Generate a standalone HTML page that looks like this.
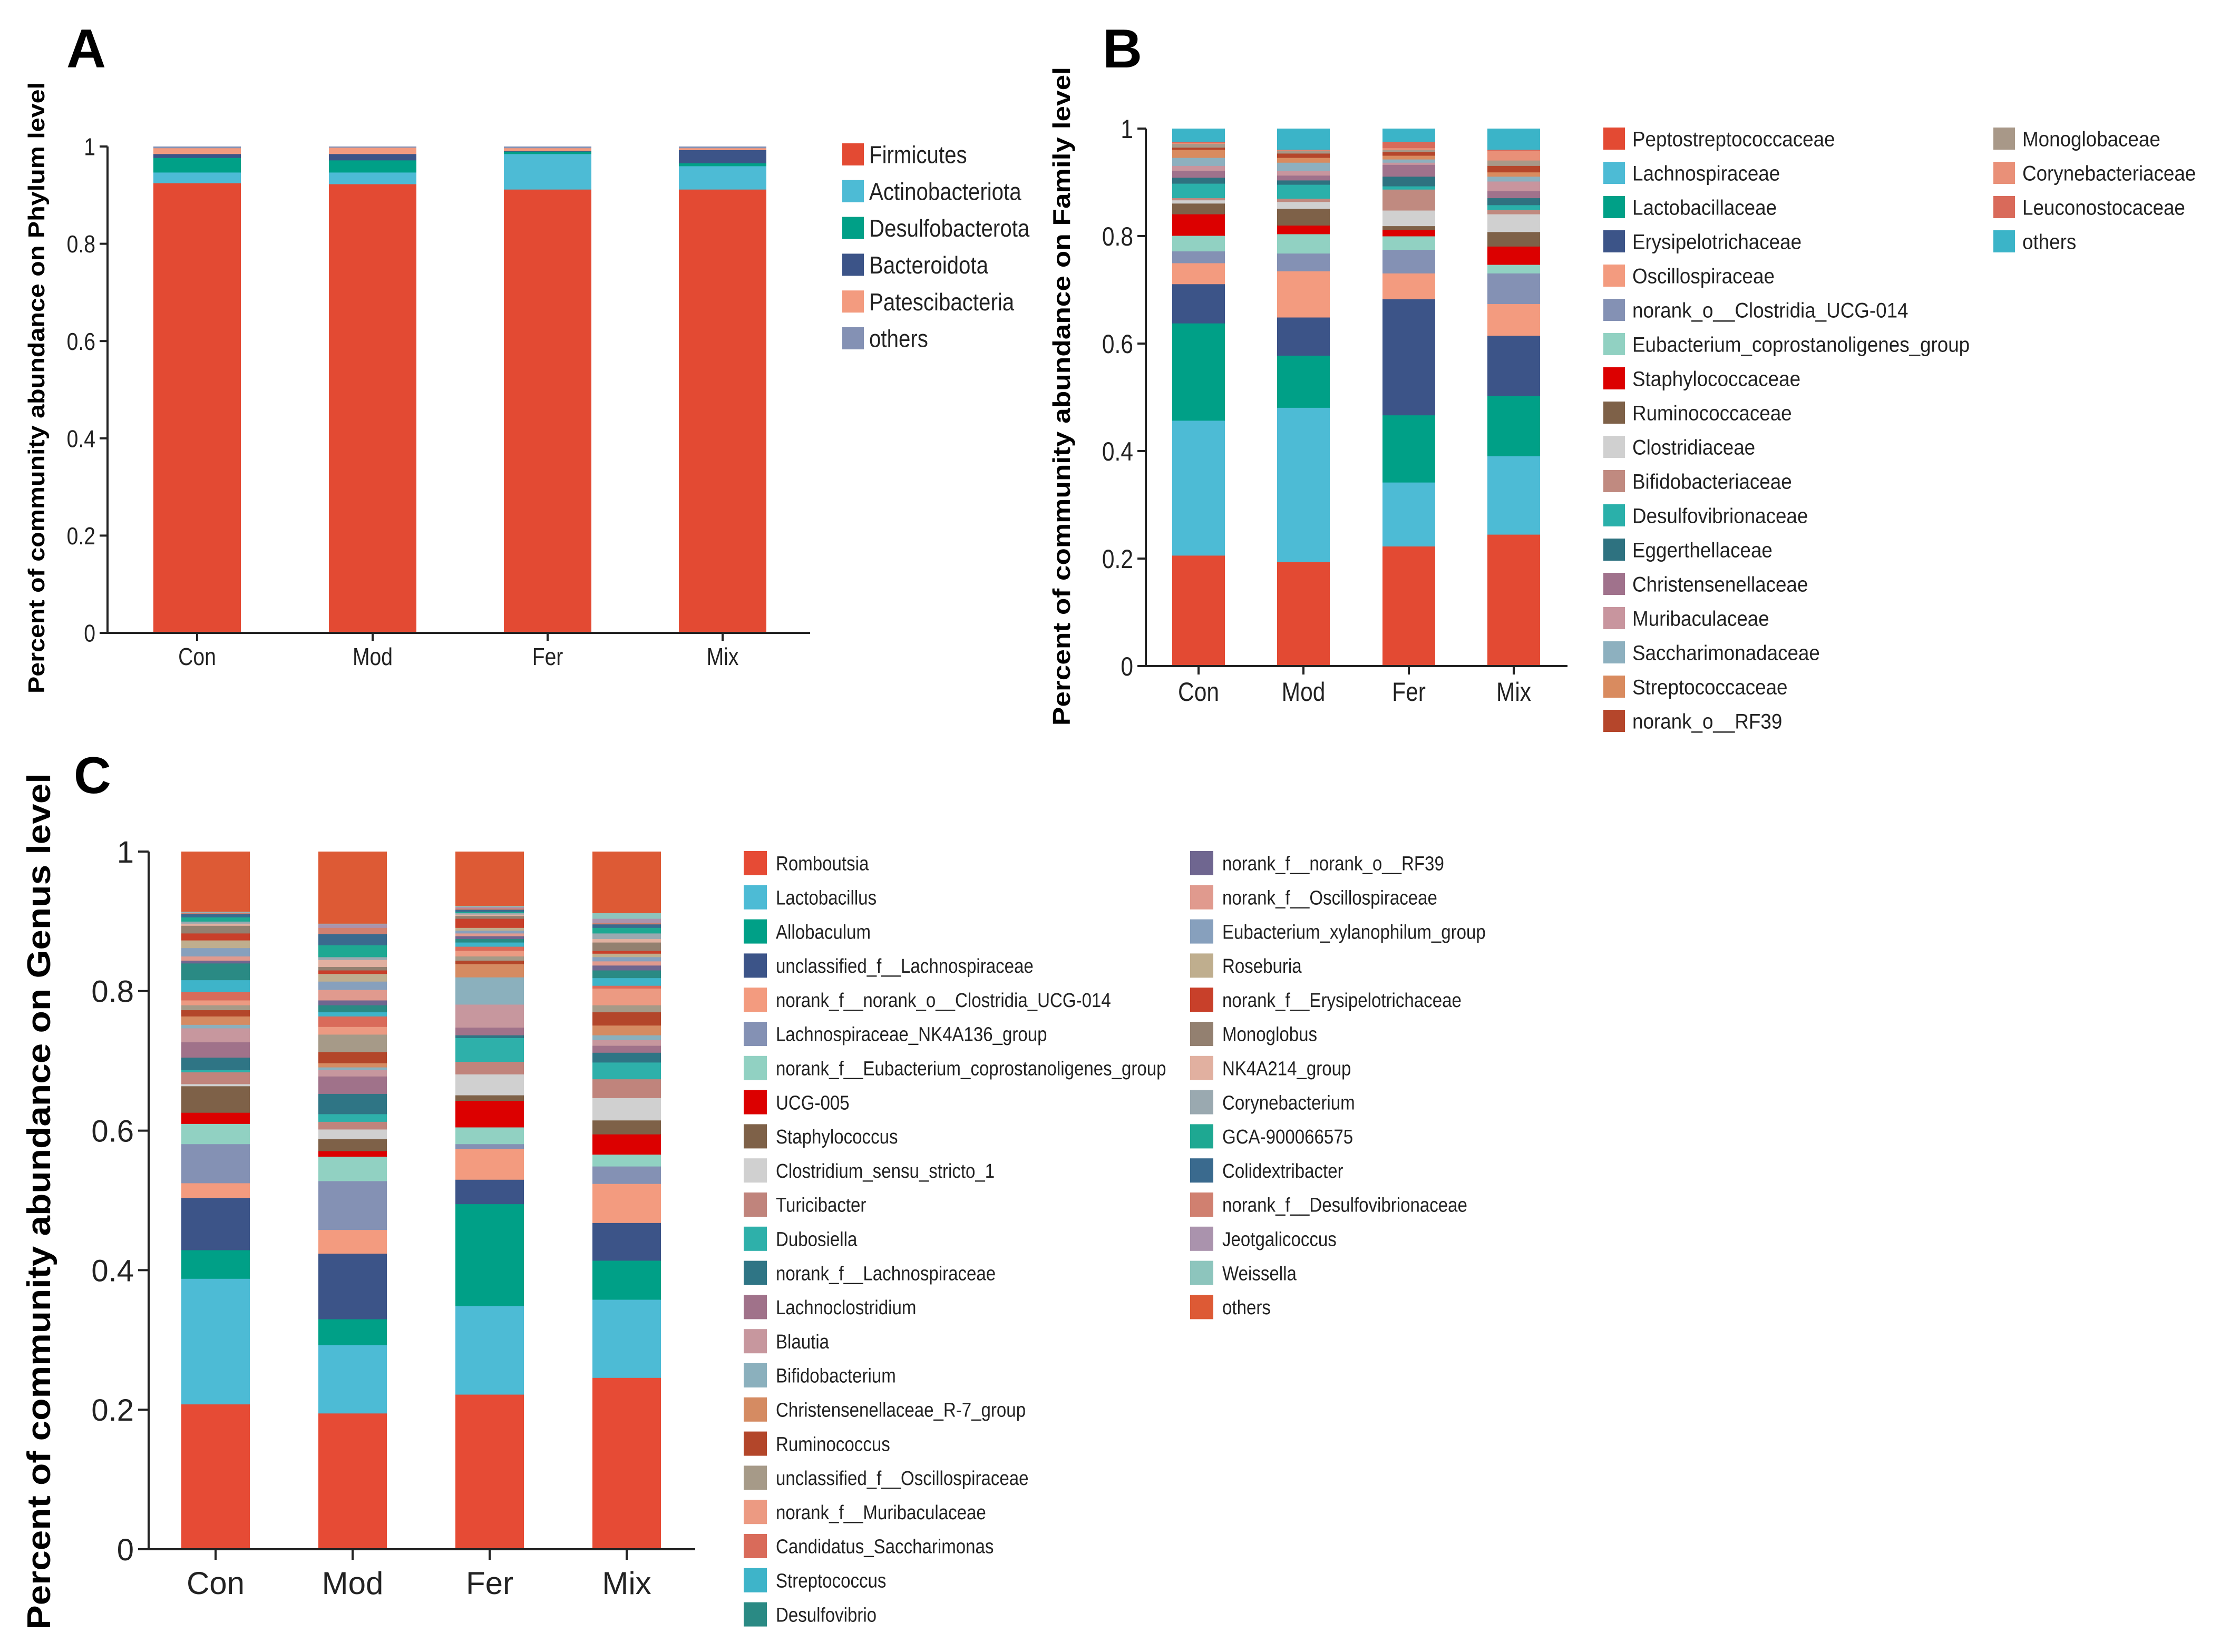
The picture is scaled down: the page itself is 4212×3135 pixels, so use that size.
<!DOCTYPE html>
<html><head><meta charset="utf-8"><style>
html,body{margin:0;padding:0;background:#fff;}
svg{display:block;font-family:"Liberation Sans",Arial,sans-serif;}
</style></head><body>
<svg id="fig" xmlns="http://www.w3.org/2000/svg" width="4212" height="3135" viewBox="0 0 4212 3135">
<rect width="4212" height="3135" fill="#fff"/>
</svg>
<script>
// ---------- shared data ----------
const groups = ["Con","Mod","Fer","Mix"];

// Panel A (phylum)
const phylumNames = ["Firmicutes","Actinobacteriota","Desulfobacterota","Bacteroidota","Patescibacteria","others"];
const phylumColors = ["#e34a33","#4dbbd5","#00a087","#3c5488","#f39b7f","#8491b4"];
const phylumCon = [0.925,0.022,0.030,0.008,0.012,0.003];
const phylumMod = [0.923,0.024,0.025,0.013,0.013,0.002];
const phylumFer = [0.912,0.073,0.005,0.001,0.006,0.003];
const phylumMix = [0.912,0.048,0.006,0.027,0.004,0.003];

// Panel B (family)
const familyNames = ["Peptostreptococcaceae","Lachnospiraceae","Lactobacillaceae","Erysipelotrichaceae","Oscillospiraceae","norank_o__Clostridia_UCG-014","Eubacterium_coprostanoligenes_group","Staphylococcaceae","Ruminococcaceae","Clostridiaceae","Bifidobacteriaceae","Desulfovibrionaceae","Eggerthellaceae","Christensenellaceae","Muribaculaceae","Saccharimonadaceae","Streptococcaceae","norank_o__RF39","Monoglobaceae","Corynebacteriaceae","Leuconostocaceae","others"];
const familyColors = ["#e34a33","#4dbbd5","#00a087","#3c5488","#f39b7f","#8491b4","#91d1c2","#dc0000","#7e6148","#d0d0d0","#c08a80","#2ab0aa","#2e7280","#a0728c","#c8959e","#8db0bf","#d98b5f","#b5462b","#a89888","#e99078","#d96a5a","#3bb4c8"];
const familyCon = [0.206,0.251,0.181,0.073,0.039,0.022,0.029,0.040,0.020,0.006,0.004,0.027,0.011,0.013,0.009,0.015,0.015,0.004,0.007,0.002,0.002,0.024];
const familyMod = [0.194,0.287,0.097,0.071,0.086,0.033,0.036,0.016,0.031,0.013,0.006,0.026,0.008,0.009,0.009,0.015,0.009,0.008,0.005,0.001,0.001,0.039];
const familyFer = [0.223,0.119,0.125,0.216,0.048,0.044,0.025,0.012,0.007,0.029,0.039,0.006,0.018,0.022,0.004,0.006,0.007,0.007,0.004,0.003,0.012,0.024];
const familyMix = [0.245,0.146,0.112,0.112,0.059,0.057,0.016,0.034,0.027,0.033,0.008,0.009,0.013,0.013,0.018,0.009,0.008,0.012,0.010,0.018,0.002,0.039];

// Panel C (genus)
const genusNames = ["Romboutsia","Lactobacillus","Allobaculum","unclassified_f__Lachnospiraceae","norank_f__norank_o__Clostridia_UCG-014","Lachnospiraceae_NK4A136_group","norank_f__Eubacterium_coprostanoligenes_group","UCG-005","Staphylococcus","Clostridium_sensu_stricto_1","Turicibacter","Dubosiella","norank_f__Lachnospiraceae","Lachnoclostridium","Blautia","Bifidobacterium","Christensenellaceae_R-7_group","Ruminococcus","unclassified_f__Oscillospiraceae","norank_f__Muribaculaceae","Candidatus_Saccharimonas","Streptococcus","Desulfovibrio","norank_f__norank_o__RF39","norank_f__Oscillospiraceae","Eubacterium_xylanophilum_group","Roseburia","norank_f__Erysipelotrichaceae","Monoglobus","NK4A214_group","Corynebacterium","GCA-900066575","Colidextribacter","norank_f__Desulfovibrionaceae","Jeotgalicoccus","Weissella","others"];
const genusColors = ["#e64b35","#4dbbd5","#00a087","#3c5488","#f39b7f","#8491b4","#91d1c2","#dc0000","#7e6148","#d0d0d0","#c0847c","#2eb0aa","#2f7585","#a0728a","#c7979e","#8bb0bd","#d58b62","#b3462a","#a69a88","#ec9a82","#d96b5a","#3eb4c9","#2a8a84","#6f6690","#e09a8e","#87a0bd","#bfae8e","#c8402a","#938070","#e1b0a0","#9aa9b0","#1ea892","#3a6a8e","#d08070","#aa93ad","#8dc5bd","#dd5a35"];
const genusCon = [0.208,0.180,0.041,0.075,0.021,0.056,0.029,0.016,0.038,0.003,0.017,0.003,0.018,0.022,0.020,0.005,0.012,0.009,0.007,0.007,0.012,0.017,0.024,0.004,0.006,0.012,0.011,0.010,0.011,0.003,0.003,0.006,0.005,0.001,0.001,0.001,0.086];
const genusMod = [0.195,0.098,0.037,0.094,0.034,0.070,0.035,0.008,0.017,0.014,0.011,0.011,0.029,0.025,0.009,0.004,0.006,0.016,0.025,0.011,0.015,0.006,0.010,0.007,0.015,0.012,0.011,0.005,0.005,0.010,0.004,0.017,0.016,0.009,0.005,0.001,0.103];
const genusFer = [0.222,0.127,0.146,0.035,0.044,0.007,0.024,0.038,0.008,0.030,0.018,0.034,0.004,0.011,0.033,0.039,0.019,0.005,0.006,0.008,0.006,0.006,0.005,0.004,0.004,0.004,0.004,0.013,0.004,0.002,0.002,0.002,0.003,0.002,0.002,0.001,0.078];
const genusMix = [0.246,0.112,0.056,0.054,0.056,0.025,0.017,0.029,0.020,0.032,0.027,0.024,0.014,0.010,0.008,0.007,0.014,0.019,0.010,0.024,0.004,0.011,0.011,0.007,0.006,0.006,0.005,0.004,0.012,0.005,0.008,0.008,0.005,0.002,0.006,0.008,0.088];

const yTicks = [0,0.2,0.4,0.6,0.8,1];
const yTickLabels = ["0","0.2","0.4","0.6","0.8","1"];

// ---------- drawing ----------
const NS = "http://www.w3.org/2000/svg";
const svg = document.getElementById("fig");
function mk(tag, attrs, parent){
  const e = document.createElementNS(NS, tag);
  for (const k in attrs) e.setAttribute(k, attrs[k]);
  (parent||svg).appendChild(e);
  return e;
}

function panel(p){
  const g = mk("g", {});
  
  
  const yS = v => p.y0 + (p.y1 - p.y0) * v;
  const L = mk("text", {x:p.letterX, y:p.letterY, "font-size":p.letterSize, "font-weight":"bold", fill:"#000"}, g);
  L.textContent = p.letter;
  
  
  const T = mk("text", {transform:`translate(${p.titleX},${p.titleCY}) rotate(-90)`, "text-anchor":"middle", "font-size":p.titleSize, "font-weight":"bold", fill:"#000", textLength:p.titleLen, lengthAdjust:"spacingAndGlyphs"}, g);
  T.textContent = p.title;
  
  
  p.series.forEach((vals, gi) => {
    const cx = p.xs[gi];
    let cum = 0;
    vals.forEach((v, si) => {
      const top = yS(cum + v), bot = yS(cum);
      const r = mk("rect", {x:cx - p.bw/2, y:top, width:p.bw, height:Math.max(0, bot - top + 0.5), fill:p.colors[si]}, g);
      
      
      cum += v;
    });
  });
  const ya = mk("line", {x1:p.axX, y1:yS(1), x2:p.axX, y2:yS(0), stroke:"#222", "stroke-width":p.sw}, g);
  
  
  const xa = mk("line", {x1:p.axX - p.tick, y1:yS(0), x2:p.xEnd, y2:yS(0), stroke:"#222", "stroke-width":p.sw}, g);
  
  
  yTicks.forEach((t, i) => {
    mk("line", {x1:p.axX - p.tick, y1:yS(t), x2:p.axX, y2:yS(t), stroke:"#222", "stroke-width":p.sw}, g);
    const tx = mk("text", {transform:`translate(${p.axX - p.tick - 8},${yS(t) + p.tickSize*0.36}) scale(${p.sx},1)`, "text-anchor":"end", "font-size":p.tickSize, fill:"#222"}, g);
    tx.textContent = yTickLabels[i];
    
    
  });
  groups.forEach((gname, gi) => {
    mk("line", {x1:p.xs[gi], y1:yS(0), x2:p.xs[gi], y2:yS(0) + p.tick, stroke:"#222", "stroke-width":p.sw}, g);
    const tx = mk("text", {transform:`translate(${p.xs[gi]},${p.catY}) scale(${p.sx},1)`, "text-anchor":"middle", "font-size":p.catSize, fill:"#222"}, g);
    tx.textContent = gname;
    
    
  });
  p.names.forEach((n, i) => {
    const col = Math.floor(i / p.perCol), row = i % p.perCol;
    const lx = p.legX[col], ly = p.legY0 + row * p.legDy;
    const lg = mk("g", {}, g);
    
    
    mk("rect", {x:lx, y:ly - p.legSq/2, width:p.legSqW, height:p.legSq, fill:p.colors[i]}, lg);
    const tx = mk("text", {transform:`translate(${lx + p.legTx},${ly + p.legSize*0.36}) scale(${p.legSx},1)`, "font-size":p.legSize, fill:"#222"}, lg);
    tx.textContent = n;
  });
}

panel({id:"phylum", letter:"A", letterX:126, letterY:128, letterSize:104,
  title:"Percent of community abundance on Phylum level", titleX:84, titleCY:736, titleSize:44, titleLen:1160,
  y0:1201, y1:278, axX:204, xEnd:1537, tick:15, sw:4,
  xs:[374,707,1039,1371], bw:166,
  series:[phylumCon, phylumMod, phylumFer, phylumMix], names:phylumNames, colors:phylumColors,
  tickSize:46, catSize:46, catY:1262, sx:0.85,
  perCol:10, legX:[1598], legY0:293, legDy:69.8, legSq:42, legSqW:41, legTx:51, legSize:46, legSx:0.875});

panel({id:"family", letter:"B", letterX:2092, letterY:128, letterSize:104,
  title:"Percent of community abundance on Family level", titleX:2030, titleCY:752, titleSize:46, titleLen:1250,
  y0:1264, y1:244, axX:2174, xEnd:2974, tick:16, sw:4,
  xs:[2274,2473,2673,2872], bw:100,
  series:[familyCon, familyMod, familyFer, familyMix], names:familyNames, colors:familyColors,
  tickSize:50, catSize:50, catY:1330, sx:0.85,
  perCol:18, legX:[3042,3782], legY0:263, legDy:65, legSq:42, legSqW:41, legTx:55, legSize:40, legSx:0.92});

panel({id:"genus", letter:"C", letterX:140, letterY:1505, letterSize:98,
  title:"Percent of community abundance on Genus level", titleX:95, titleCY:2280, titleSize:62, titleLen:1625,
  y0:2940, y1:1616, axX:282, xEnd:1319, tick:20, sw:4,
  xs:[409,669,929,1189], bw:130,
  series:[genusCon, genusMod, genusFer, genusMix], names:genusNames, colors:genusColors,
  tickSize:58, catSize:60, catY:3025, sx:1,
  perCol:23, legX:[1411,2258], legY0:1638, legDy:64.8, legSq:46, legSqW:44, legTx:61, legSize:38, legSx:0.87});
</script>
</body></html>
